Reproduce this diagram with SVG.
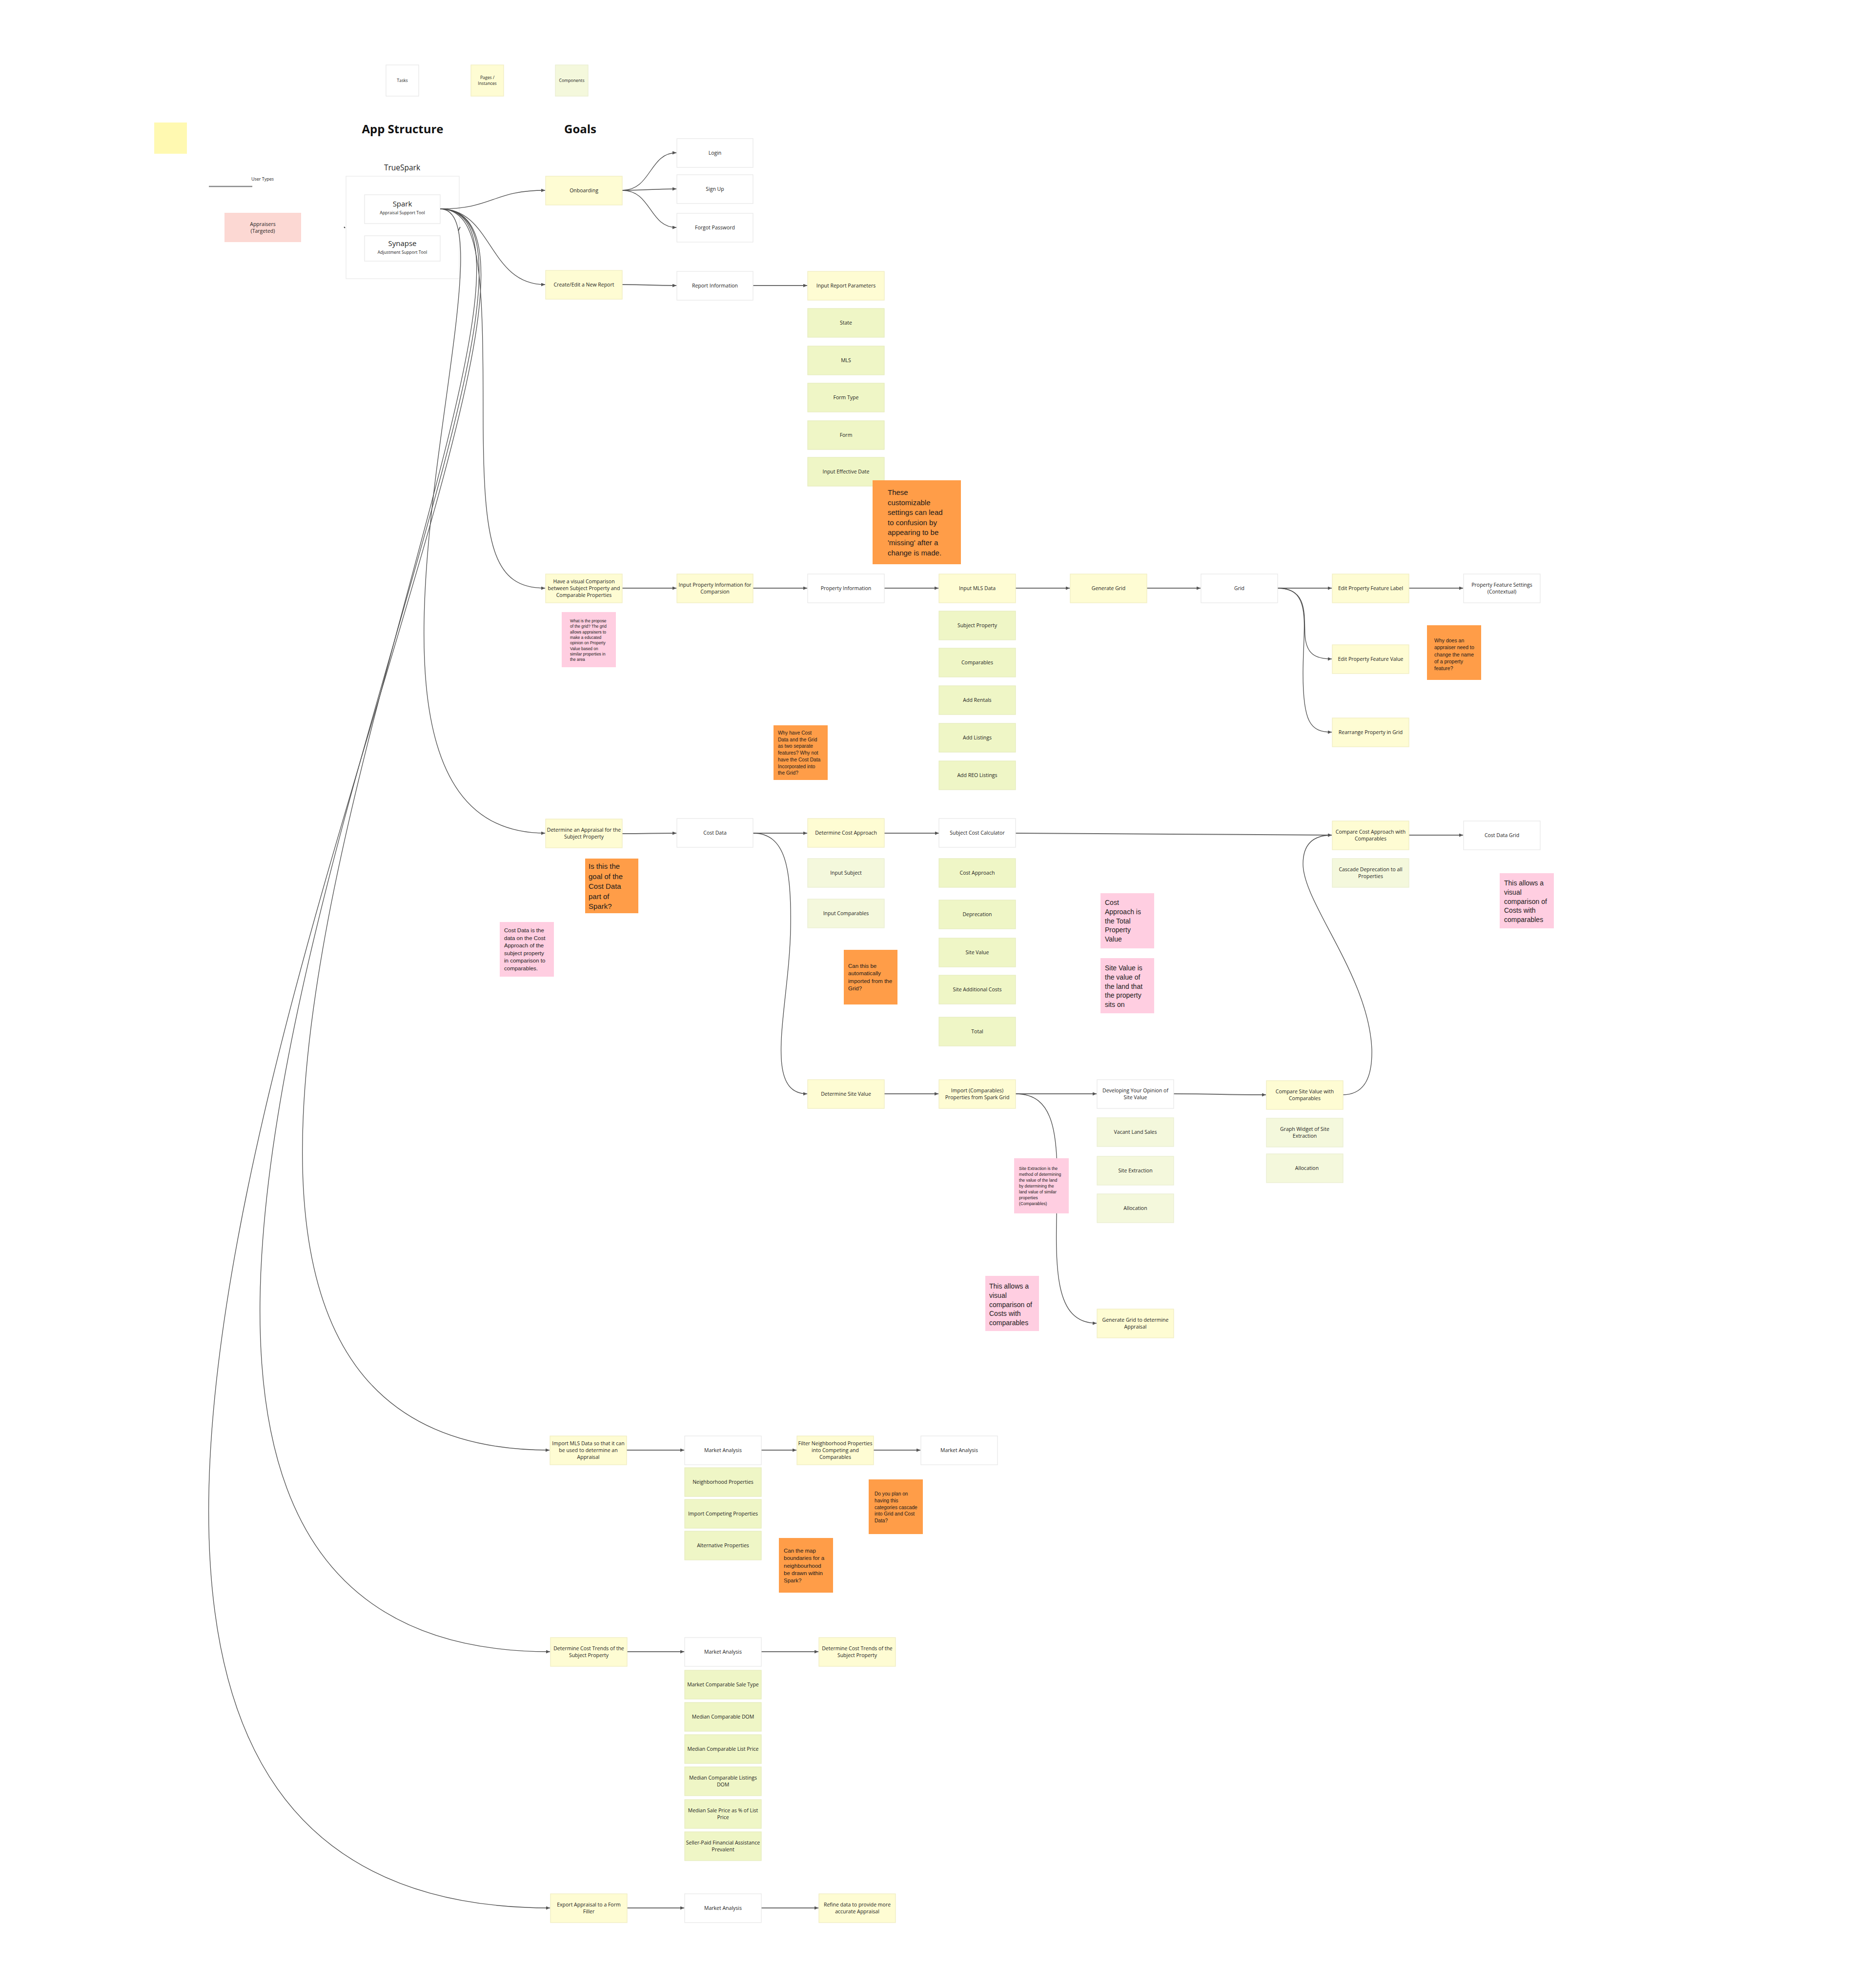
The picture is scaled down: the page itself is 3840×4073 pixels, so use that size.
<svg xmlns="http://www.w3.org/2000/svg" width="3840" height="4073" viewBox="0 0 3840 4073">
<defs>
<style>
.t{fill:#ffffff;stroke:#e6e6e6;stroke-width:1.2}
.p{fill:#fefcd3;stroke:#efecbf;stroke-width:1.2}
.c{fill:#eff6c6;stroke:#e4ebbc;stroke-width:1.2}
.cl{fill:#f4f8dc;stroke:#e8edcf;stroke-width:1.2}
.pk{fill:#ffcee1}
.or{fill:#ff9d48}
text{font-family:"Open Sans","DejaVu Sans",sans-serif;fill:#222}
.l{font-size:10.5px;text-anchor:middle}
.s{font-size:8.7px;text-anchor:middle}
.n{font-family:"Liberation Sans",Arial,sans-serif;fill:#1a1a1a}
.h{font-size:24px;font-weight:bold;text-anchor:middle;fill:#111}
.cv{fill:none;stroke:#4a4a4a;stroke-width:1.3}
.st{fill:none;stroke:#6a6a6a;stroke-width:2}
</style>
<marker id="a" viewBox="0 0 8 7" refX="8" refY="3.5" markerWidth="8" markerHeight="7" markerUnits="userSpaceOnUse" orient="auto"><path d="M0,0 L8,3.5 L0,7 z" fill="#555"/></marker>
</defs>
<rect width="3840" height="4073" fill="#ffffff"/>

<g id="legend">
<g id="lg-tasks"><rect class="t" x="791" y="133" width="67" height="64"/><text class="s" x="824.5" y="168">Tasks</text></g>
<g id="lg-pages"><rect class="p" x="965" y="133" width="67" height="64"/><text class="s" x="998.5" y="162">Pages /</text><text class="s" x="998.5" y="174">Instances</text></g>
<g id="lg-comp"><rect class="cl" x="1138" y="133" width="67" height="64"/><text class="s" x="1171.5" y="168">Components</text></g>
<rect x="316" y="251" width="67" height="64" fill="#fff9b1"/>
</g>

<text class="h" x="825" y="273">App Structure</text>
<text class="h" x="1189" y="273">Goals</text>

<g id="usertypes">
<text class="s" x="538" y="370" style="font-size:9px">User Types</text>
<line x1="428" y1="382" x2="517" y2="382" stroke="#888" stroke-width="2.5"/>
</g>
<g id="appraisers"><rect x="460" y="436" width="157" height="60" fill="#fcd8d3"/><text class="l" x="538.5" y="463">Appraisers</text><text class="l" x="538.5" y="477">(Targeted)</text></g>

<g id="truespark">
<text x="824" y="349" style="font-size:15.5px;text-anchor:middle">TrueSpark</text>
<rect x="709" y="361" width="232" height="210" fill="#fff" stroke="#e8e8e8" stroke-width="1.2"/>
</g>
<g id="spark"><rect class="t" x="747" y="399" width="155" height="59"/><text x="824.5" y="423" style="font-size:15px;text-anchor:middle">Spark</text><text class="s" x="824.5" y="439">Appraisal Support Tool</text></g>
<g id="synapse"><rect class="t" x="747" y="483" width="155" height="52"/><text x="824.5" y="504" style="font-size:15px;text-anchor:middle">Synapse</text><text class="s" x="824.5" y="520">Adjustment Support Tool</text></g>

<g id="connectors">
<path d="M705,465 L707,467" stroke="#333" stroke-width="2"/>
<path d="M939,473 L943,465" stroke="#333" stroke-width="1.5"/>
<path class="cv" marker-end="url(#a)" d="M902,428 C1010,428 1010,390 1117,390"/>
<path class="cv" marker-end="url(#a)" d="M902,428 C1010,428 1000,583 1117,583"/>
<path class="cv" marker-end="url(#a)" d="M902,428 C985,428 990,560 990,850 C990,1120 1010,1205 1117,1205"/>
<path class="cv" marker-end="url(#a)" d="M902,428 C1080,428 600,1707 1117,1707"/>
<path class="cv" marker-end="url(#a)" d="M902,428 C1300,428 -80,2971 1126,2971"/>
<path class="cv" marker-end="url(#a)" d="M902,428 C1350,428 -300,3384 1127,3384"/>
<path class="cv" marker-end="url(#a)" d="M902,428 C1400,428 -560,3909 1127,3909"/>

<path class="cv" marker-end="url(#a)" d="M1275,390 C1335,390 1330,313 1386,313"/>
<path class="cv" marker-end="url(#a)" d="M1275,390 C1330,390 1330,387 1386,387"/>
<path class="cv" marker-end="url(#a)" d="M1275,390 C1335,390 1330,466 1386,466"/>
<path class="st" marker-end="url(#a)" d="M1275,583 C1330,583 1330,585 1386,585"/>
<path class="st" marker-end="url(#a)" d="M1543,585 L1654,585"/>

<path class="st" marker-end="url(#a)" d="M1275,1205 L1386,1205"/>
<path class="st" marker-end="url(#a)" d="M1543,1205 L1654,1205"/>
<path class="st" marker-end="url(#a)" d="M1812,1205 L1923,1205"/>
<path class="st" marker-end="url(#a)" d="M2081,1205 L2192,1205"/>
<path class="st" marker-end="url(#a)" d="M2350,1205 L2460,1205"/>
<path class="st" marker-end="url(#a)" d="M2618,1205 L2729,1205"/>
<path class="st" marker-end="url(#a)" d="M2887,1205 L2998,1205"/>
<path class="cv" marker-end="url(#a)" d="M2618,1205 C2680,1205 2672,1260 2674,1300 C2676,1340 2695,1350 2729,1350"/>
<path class="cv" marker-end="url(#a)" d="M2618,1205 C2690,1205 2670,1280 2670,1380 C2670,1480 2685,1500 2729,1500"/>

<path class="st" marker-end="url(#a)" d="M1275,1708 C1330,1708 1330,1707 1386,1707"/>
<path class="st" marker-end="url(#a)" d="M1543,1707 L1654,1707"/>
<path class="st" marker-end="url(#a)" d="M1812,1707 L1924,1707"/>
<path class="st" marker-end="url(#a)" d="M2080,1707 C2400,1707 2400,1711 2729,1711"/>
<path class="st" marker-end="url(#a)" d="M2887,1711 L2998,1711"/>
<path class="cv" marker-end="url(#a)" d="M1543,1707 C1610,1707 1622,1780 1620,1900 C1618,2060 1560,2241 1654,2241"/>

<path class="st" marker-end="url(#a)" d="M1812,2241 L1923,2241"/>
<path class="st" marker-end="url(#a)" d="M2081,2241 L2247,2241"/>
<path class="st" marker-end="url(#a)" d="M2405,2241 C2500,2241 2500,2243 2594,2243"/>
<path class="cv" marker-end="url(#a)" d="M2081,2241 C2160,2241 2168,2320 2166,2450 C2162,2600 2160,2711 2247,2711"/>
<path class="cv" marker-end="url(#a)" d="M2751,2243 C2800,2243 2812,2200 2811,2150 C2805,2000 2670,1850 2670,1770 C2670,1730 2690,1711 2729,1711"/>

<path class="st" marker-end="url(#a)" d="M1284,2971 L1402,2971"/>
<path class="st" marker-end="url(#a)" d="M1559,2971 L1632,2971"/>
<path class="st" marker-end="url(#a)" d="M1790,2971 L1886,2971"/>
<path class="st" marker-end="url(#a)" d="M1285,3384 L1402,3384"/>
<path class="st" marker-end="url(#a)" d="M1560,3384 L1677,3384"/>
<path class="st" marker-end="url(#a)" d="M1285,3909 L1402,3909"/>
<path class="st" marker-end="url(#a)" d="M1560,3909 L1677,3909"/>
</g>

<g id="onboarding"><rect class="p" x="1118" y="361" width="157" height="59"/><text class="l" x="1196.5" y="394">Onboarding</text></g>
<g id="login"><rect class="t" x="1387" y="284" width="156" height="59"/><text class="l" x="1465" y="317">Login</text></g>
<g id="signup"><rect class="t" x="1387" y="358" width="156" height="59"/><text class="l" x="1465" y="391">Sign Up</text></g>
<g id="forgot"><rect class="t" x="1387" y="437" width="156" height="59"/><text class="l" x="1465" y="470">Forgot Password</text></g>

<g id="create"><rect class="p" x="1118" y="554" width="157" height="59"/><text class="l" x="1196.5" y="587">Create/Edit a New Report</text></g>
<g id="reportinfo"><rect class="t" x="1387" y="556" width="156" height="59"/><text class="l" x="1465" y="589">Report Information</text></g>
<g id="irp"><rect class="p" x="1655" y="556" width="157" height="59"/><text class="l" x="1733.5" y="589">Input Report Parameters</text></g>
<g id="state"><rect class="c" x="1655" y="632" width="157" height="59"/><text class="l" x="1733.5" y="665">State</text></g>
<g id="mls"><rect class="c" x="1655" y="709" width="157" height="59"/><text class="l" x="1733.5" y="742">MLS</text></g>
<g id="formtype"><rect class="c" x="1655" y="785" width="157" height="59"/><text class="l" x="1733.5" y="818">Form Type</text></g>
<g id="form"><rect class="c" x="1655" y="862" width="157" height="59"/><text class="l" x="1733.5" y="895">Form</text></g>
<g id="effdate"><rect class="c" x="1655" y="937" width="157" height="59"/><text class="l" x="1733.5" y="970">Input Effective Date</text></g>

<g id="visual"><rect class="p" x="1118" y="1176" width="157" height="59"/><text class="l" x="1196.5" y="1195">Have a visual Comparison</text><text class="l" x="1196.5" y="1209">between Subject Property and</text><text class="l" x="1196.5" y="1223">Comparable Properties</text></g>
<g id="inputprop"><rect class="p" x="1387" y="1176" width="156" height="59"/><text class="l" x="1465" y="1202">Input Property Information for</text><text class="l" x="1465" y="1216">Comparsion</text></g>
<g id="propinfo"><rect class="t" x="1655" y="1176" width="157" height="59"/><text class="l" x="1733.5" y="1209">Property Information</text></g>
<g id="inputmls"><rect class="p" x="1924" y="1176" width="157" height="59"/><text class="l" x="2002.5" y="1209">Input MLS Data</text></g>
<g id="subjprop"><rect class="c" x="1924" y="1252" width="157" height="59"/><text class="l" x="2002.5" y="1285">Subject Property</text></g>
<g id="comps"><rect class="c" x="1924" y="1328" width="157" height="59"/><text class="l" x="2002.5" y="1361">Comparables</text></g>
<g id="rentals"><rect class="c" x="1924" y="1405" width="157" height="59"/><text class="l" x="2002.5" y="1438">Add Rentals</text></g>
<g id="listings"><rect class="c" x="1924" y="1482" width="157" height="59"/><text class="l" x="2002.5" y="1515">Add Listings</text></g>
<g id="reo"><rect class="c" x="1924" y="1559" width="157" height="59"/><text class="l" x="2002.5" y="1592">Add REO Listings</text></g>
<g id="gengrid"><rect class="p" x="2193" y="1176" width="157" height="59"/><text class="l" x="2271.5" y="1209">Generate Grid</text></g>
<g id="grid"><rect class="t" x="2461" y="1176" width="157" height="59"/><text class="l" x="2539.5" y="1209">Grid</text></g>
<g id="epfl"><rect class="p" x="2730" y="1176" width="157" height="59"/><text class="l" x="2808.5" y="1209">Edit Property Feature Label</text></g>
<g id="pfs"><rect class="t" x="2999" y="1176" width="157" height="59"/><text class="l" x="3077.5" y="1202">Property Feature Settings</text><text class="l" x="3077.5" y="1216">(Contextual)</text></g>
<g id="epfv"><rect class="p" x="2730" y="1321" width="157" height="59"/><text class="l" x="2808.5" y="1354">Edit Property Feature Value</text></g>
<g id="rearrange"><rect class="p" x="2730" y="1471" width="157" height="59"/><text class="l" x="2808.5" y="1504">Rearrange Property in Grid</text></g>

<g id="detappraisal"><rect class="p" x="1118" y="1678" width="157" height="59"/><text class="l" x="1196.5" y="1704">Determine an Appraisal for the</text><text class="l" x="1196.5" y="1718">Subject Property</text></g>
<g id="costdata"><rect class="t" x="1387" y="1677" width="156" height="59"/><text class="l" x="1465" y="1710">Cost Data</text></g>
<g id="dca"><rect class="p" x="1655" y="1677" width="157" height="59"/><text class="l" x="1733.5" y="1710">Determine Cost Approach</text></g>
<g id="scc"><rect class="t" x="1924" y="1677" width="157" height="59"/><text class="l" x="2002.5" y="1710">Subject Cost Calculator</text></g>
<g id="inputsubj"><rect class="cl" x="1655" y="1759" width="157" height="59"/><text class="l" x="1733.5" y="1792">Input Subject</text></g>
<g id="inputcomps"><rect class="cl" x="1655" y="1842" width="157" height="59"/><text class="l" x="1733.5" y="1875">Input Comparables</text></g>
<g id="costapproach"><rect class="c" x="1924" y="1759" width="157" height="59"/><text class="l" x="2002.5" y="1792">Cost Approach</text></g>
<g id="deprecation"><rect class="c" x="1924" y="1844" width="157" height="59"/><text class="l" x="2002.5" y="1877">Deprecation</text></g>
<g id="sitevalue"><rect class="c" x="1924" y="1922" width="157" height="59"/><text class="l" x="2002.5" y="1955">Site Value</text></g>
<g id="siteadd"><rect class="c" x="1924" y="1998" width="157" height="59"/><text class="l" x="2002.5" y="2031">Site Additional Costs</text></g>
<g id="total"><rect class="c" x="1924" y="2084" width="157" height="59"/><text class="l" x="2002.5" y="2117">Total</text></g>
<g id="ccac"><rect class="p" x="2730" y="1682" width="157" height="59"/><text class="l" x="2808.5" y="1708">Compare Cost Approach with</text><text class="l" x="2808.5" y="1722">Comparables</text></g>
<g id="costgrid"><rect class="t" x="2999" y="1682" width="157" height="59"/><text class="l" x="3077.5" y="1715">Cost Data Grid</text></g>
<g id="cascade"><rect class="cl" x="2730" y="1759" width="157" height="59"/><text class="l" x="2808.5" y="1785">Cascade Deprecation to all</text><text class="l" x="2808.5" y="1799">Properties</text></g>

<g id="dsv"><rect class="p" x="1655" y="2212" width="157" height="59"/><text class="l" x="1733.5" y="2245">Determine Site Value</text></g>
<g id="import"><rect class="p" x="1924" y="2212" width="157" height="59"/><text class="l" x="2002.5" y="2238">Import (Comparables)</text><text class="l" x="2002.5" y="2252">Properties from Spark Grid</text></g>
<g id="developing"><rect class="t" x="2248" y="2212" width="157" height="59"/><text class="l" x="2326.5" y="2238">Developing Your Opinion of</text><text class="l" x="2326.5" y="2252">Site Value</text></g>
<g id="csvc"><rect class="p" x="2595" y="2214" width="157" height="59"/><text class="l" x="2673.5" y="2240">Compare Site Value with</text><text class="l" x="2673.5" y="2254">Comparables</text></g>
<g id="vacant"><rect class="cl" x="2248" y="2290" width="157" height="59"/><text class="l" x="2326.5" y="2323">Vacant Land Sales</text></g>
<g id="siteext"><rect class="cl" x="2248" y="2369" width="157" height="59"/><text class="l" x="2326.5" y="2402">Site Extraction</text></g>
<g id="alloc"><rect class="cl" x="2248" y="2446" width="157" height="59"/><text class="l" x="2326.5" y="2479">Allocation</text></g>
<g id="graphw"><rect class="cl" x="2595" y="2291" width="157" height="59"/><text class="l" x="2673.5" y="2317">Graph Widget of Site</text><text class="l" x="2673.5" y="2331">Extraction</text></g>
<g id="alloc2"><rect class="cl" x="2595" y="2364" width="157" height="59"/><text class="l" x="2678" y="2397">Allocation</text></g>
<g id="gengrid2"><rect class="p" x="2248" y="2682" width="157" height="59"/><text class="l" x="2326.5" y="2708">Generate Grid to determine</text><text class="l" x="2326.5" y="2722">Appraisal</text></g>

<g id="importmls"><rect class="p" x="1127" y="2942" width="157" height="59"/><text class="l" x="1205.5" y="2961">Import MLS Data so that it can</text><text class="l" x="1205.5" y="2975">be used to determine an</text><text class="l" x="1205.5" y="2989">Appraisal</text></g>
<g id="ma1"><rect class="t" x="1403" y="2942" width="157" height="59"/><text class="l" x="1481.5" y="2975">Market Analysis</text></g>
<g id="filter"><rect class="p" x="1633" y="2942" width="157" height="59"/><text class="l" x="1711.5" y="2961">Filter Neighborhood Properties</text><text class="l" x="1711.5" y="2975">into Competing and</text><text class="l" x="1711.5" y="2989">Comparables</text></g>
<g id="ma2"><rect class="t" x="1887" y="2942" width="157" height="59"/><text class="l" x="1965.5" y="2975">Market Analysis</text></g>
<g id="neigh"><rect class="c" x="1403" y="3007" width="157" height="59"/><text class="l" x="1481.5" y="3040">Neighborhood Properties</text></g>
<g id="impcomp"><rect class="c" x="1403" y="3072" width="157" height="59"/><text class="l" x="1481.5" y="3105">Import Competing Properties</text></g>
<g id="altprop"><rect class="c" x="1403" y="3137" width="157" height="59"/><text class="l" x="1481.5" y="3170">Alternative Properties</text></g>

<g id="trends"><rect class="p" x="1128" y="3355" width="157" height="59"/><text class="l" x="1206.5" y="3381">Determine Cost Trends of the</text><text class="l" x="1206.5" y="3395">Subject Property</text></g>
<g id="ma3"><rect class="t" x="1403" y="3355" width="157" height="59"/><text class="l" x="1481.5" y="3388">Market Analysis</text></g>
<g id="trends2"><rect class="p" x="1678" y="3355" width="157" height="59"/><text class="l" x="1756.5" y="3381">Determine Cost Trends of the</text><text class="l" x="1756.5" y="3395">Subject Property</text></g>
<g id="mcst"><rect class="c" x="1403" y="3422" width="157" height="59"/><text class="l" x="1481.5" y="3455">Market Comparable Sale Type</text></g>
<g id="mcdom"><rect class="c" x="1403" y="3488" width="157" height="59"/><text class="l" x="1481.5" y="3521">Median Comparable DOM</text></g>
<g id="mclp"><rect class="c" x="1403" y="3554" width="157" height="59"/><text class="l" x="1481.5" y="3587">Median Comparable List Price</text></g>
<g id="mcld"><rect class="c" x="1403" y="3620" width="157" height="59"/><text class="l" x="1481.5" y="3646">Median Comparable Listings</text><text class="l" x="1481.5" y="3660">DOM</text></g>
<g id="mspl"><rect class="c" x="1403" y="3687" width="157" height="59"/><text class="l" x="1481.5" y="3713">Median Sale Price as % of List</text><text class="l" x="1481.5" y="3727">Price</text></g>
<g id="spfa"><rect class="c" x="1403" y="3753" width="157" height="59"/><text class="l" x="1481.5" y="3779">Seller-Paid Financial Assistance</text><text class="l" x="1481.5" y="3793">Prevalent</text></g>

<g id="export"><rect class="p" x="1128" y="3880" width="157" height="59"/><text class="l" x="1206.5" y="3906">Export Appraisal to a Form</text><text class="l" x="1206.5" y="3920">Filler</text></g>
<g id="ma4"><rect class="t" x="1403" y="3880" width="157" height="59"/><text class="l" x="1481.5" y="3913">Market Analysis</text></g>
<g id="refine"><rect class="p" x="1678" y="3880" width="157" height="59"/><text class="l" x="1756.5" y="3906">Refine data to provide more</text><text class="l" x="1756.5" y="3920">accurate Appraisal</text></g>

<g id="note-settings"><rect class="or" x="1788" y="984" width="181" height="172"/><text class="n" style="font-size:15px"><tspan x="1819" y="1014">These</tspan><tspan x="1819" y="1034.6">customizable</tspan><tspan x="1819" y="1055.2">settings can lead</tspan><tspan x="1819" y="1075.8">to confusion by</tspan><tspan x="1819" y="1096.4">appearing to be</tspan><tspan x="1819" y="1117">'missing' after a</tspan><tspan x="1819" y="1137.6">change is made.</tspan></text></g>
<g id="note-grid"><rect class="pk" x="1151" y="1254" width="111" height="113"/><text class="n" style="font-size:8.4px"><tspan x="1168" y="1275">What is the propose</tspan><tspan x="1168" y="1286.3">of the grid? The grid</tspan><tspan x="1168" y="1297.6">allows appraisers to</tspan><tspan x="1168" y="1308.9">make a educated</tspan><tspan x="1168" y="1320.2">opinion on Property</tspan><tspan x="1168" y="1331.5">Value based on</tspan><tspan x="1168" y="1342.8">similar properties in</tspan><tspan x="1168" y="1354.1">the area</tspan></text></g>
<g id="note-whycost"><rect class="or" x="1585" y="1486" width="111" height="112"/><text class="n" style="font-size:10.2px"><tspan x="1594" y="1505">Why have Cost</tspan><tspan x="1594" y="1518.7">Data and the Grid</tspan><tspan x="1594" y="1532.4">as two separate</tspan><tspan x="1594" y="1546.1">features? Why not</tspan><tspan x="1594" y="1559.8">have the Cost Data</tspan><tspan x="1594" y="1573.5">Incorporated into</tspan><tspan x="1594" y="1587.2">the Grid?</tspan></text></g>
<g id="note-whyname"><rect class="or" x="2924" y="1281" width="111" height="112"/><text class="n" style="font-size:10.5px"><tspan x="2939" y="1316">Why does an</tspan><tspan x="2939" y="1330.3">appraiser need to</tspan><tspan x="2939" y="1344.6">change the name</tspan><tspan x="2939" y="1358.9">of a property</tspan><tspan x="2939" y="1373.2">feature?</tspan></text></g>
<g id="note-goal"><rect class="or" x="1199" y="1759" width="109" height="112"/><text class="n" style="font-size:15px"><tspan x="1206" y="1780">Is this the</tspan><tspan x="1206" y="1800.6">goal of the</tspan><tspan x="1206" y="1821.2">Cost Data</tspan><tspan x="1206" y="1841.8">part of</tspan><tspan x="1206" y="1862.4">Spark?</tspan></text></g>
<g id="note-costdata"><rect class="pk" x="1024" y="1889" width="111" height="112"/><text class="n" style="font-size:11.5px"><tspan x="1033" y="1910">Cost Data is the</tspan><tspan x="1033" y="1925.5">data on the Cost</tspan><tspan x="1033" y="1941">Approach of the</tspan><tspan x="1033" y="1956.5">subject property</tspan><tspan x="1033" y="1972">in comparison to</tspan><tspan x="1033" y="1987.5">comparables.</tspan></text></g>
<g id="note-import"><rect class="or" x="1729" y="1946" width="110" height="112"/><text class="n" style="font-size:11.5px"><tspan x="1738" y="1983">Can this be</tspan><tspan x="1738" y="1998.3">automatically</tspan><tspan x="1738" y="2013.6">imported from the</tspan><tspan x="1738" y="2028.9">Grid?</tspan></text></g>
<g id="note-costapp"><rect class="pk" x="2255" y="1830" width="110" height="113"/><text class="n" style="font-size:14px"><tspan x="2264" y="1854">Cost</tspan><tspan x="2264" y="1872.8">Approach is</tspan><tspan x="2264" y="1891.6">the Total</tspan><tspan x="2264" y="1910.4">Property</tspan><tspan x="2264" y="1929.2">Value</tspan></text></g>
<g id="note-siteval"><rect class="pk" x="2255" y="1963" width="110" height="113"/><text class="n" style="font-size:14px"><tspan x="2264" y="1988">Site Value is</tspan><tspan x="2264" y="2006.8">the value of</tspan><tspan x="2264" y="2025.6">the land that</tspan><tspan x="2264" y="2044.4">the property</tspan><tspan x="2264" y="2063.2">sits on</tspan></text></g>
<g id="note-visual1"><rect class="pk" x="3073" y="1789" width="111" height="113"/><text class="n" style="font-size:14px"><tspan x="3082" y="1814">This allows a</tspan><tspan x="3082" y="1832.8">visual</tspan><tspan x="3082" y="1851.6">comparison of</tspan><tspan x="3082" y="1870.4">Costs with</tspan><tspan x="3082" y="1889.2">comparables</tspan></text></g>
<g id="note-siteext"><rect class="pk" x="2078" y="2373" width="112" height="113"/><text class="n" style="font-size:8.7px"><tspan x="2088" y="2397">Site Extraction is the</tspan><tspan x="2088" y="2409">method of determining</tspan><tspan x="2088" y="2421">the value of the land</tspan><tspan x="2088" y="2433">by determining the</tspan><tspan x="2088" y="2445">land value  of similar</tspan><tspan x="2088" y="2457">properties</tspan><tspan x="2088" y="2469">(Comparables)</tspan></text></g>
<g id="note-visual2"><rect class="pk" x="2019" y="2614" width="110" height="113"/><text class="n" style="font-size:14px"><tspan x="2027" y="2640">This allows a</tspan><tspan x="2027" y="2658.8">visual</tspan><tspan x="2027" y="2677.6">comparison of</tspan><tspan x="2027" y="2696.4">Costs with</tspan><tspan x="2027" y="2715.2">comparables</tspan></text></g>
<g id="note-cascade"><rect class="or" x="1780" y="3031" width="111" height="112"/><text class="n" style="font-size:10.2px"><tspan x="1792" y="3064">Do you plan on</tspan><tspan x="1792" y="3077.8">having this</tspan><tspan x="1792" y="3091.6">categories cascade</tspan><tspan x="1792" y="3105.4">into Grid and Cost</tspan><tspan x="1792" y="3119.2">Data?</tspan></text></g>
<g id="note-map"><rect class="or" x="1596" y="3151" width="111" height="112"/><text class="n" style="font-size:11.5px"><tspan x="1606" y="3181">Can the map</tspan><tspan x="1606" y="3196.3">boundaries for a</tspan><tspan x="1606" y="3211.6">neighbourhood</tspan><tspan x="1606" y="3226.9">be drawn within</tspan><tspan x="1606" y="3242.2">Spark?</tspan></text></g>
</svg>
